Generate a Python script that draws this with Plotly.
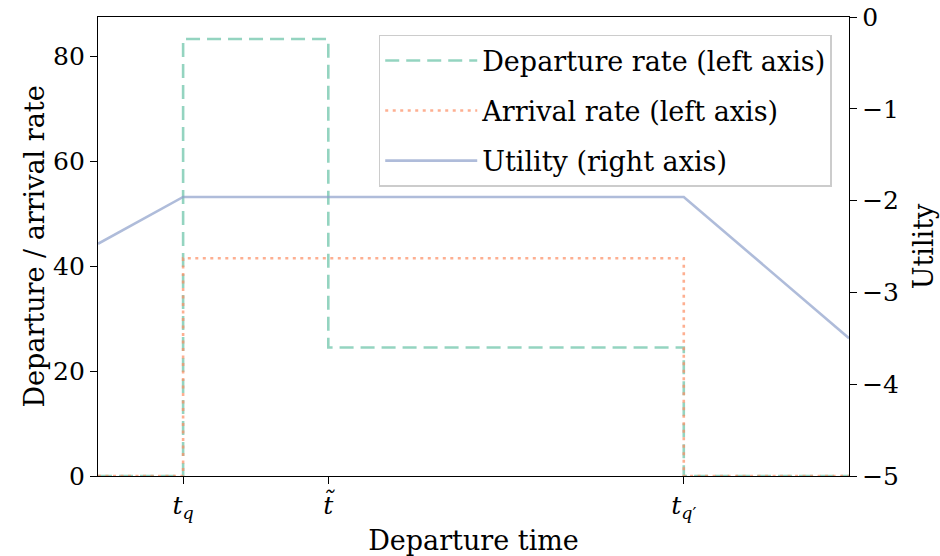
import plotly.graph_objects as go

# ---- data ----
time_points = [0, 17, 46, 117, 150]          # left edge, t_q, t~, t_q', right edge
departure_rate = [0, 83.3, 24.5, 0, 0]
arrival_rate = [0, 41.5, 41.5, 0, 0]
utility_x = [0, 17, 117, 150]
utility = [-2.47, -1.96, -1.96, -3.50]

x_tickvals = [17, 46, 117]
x_ticktext = ["<i>t</i><sub><i>q</i></sub>", "<i>t\u0303</i>", "<i>t</i><sub><i>q</i>\u2032</sub>"]
left_ticks = [0, 20, 40, 60, 80]
right_ticks = [-5, -4, -3, -2, -1, 0]
right_ticktext = ["\u22125", "\u22124", "\u22123", "\u22122", "\u22121", "0"]

FONT = "DejaVu Serif"
FS = 27      # titles / legend
TFS = 25     # tick labels

fig = go.Figure()
fig.add_trace(go.Scatter(
    x=time_points, y=departure_rate, mode="lines", line_shape="hv",
    line=dict(color="rgba(102,194,165,0.7)", width=2.6, dash="14px,7px"),
    name="Departure rate (left axis)", legendgroup="a"))
fig.add_trace(go.Scatter(
    x=time_points, y=arrival_rate, mode="lines", line_shape="hv",
    line=dict(color="rgba(252,141,98,0.7)", width=2.6, dash="3px,4.5px"),
    name="Arrival rate (left axis)", legendgroup="b"))
fig.add_trace(go.Scatter(
    x=utility_x, y=utility, mode="lines", yaxis="y2",
    line=dict(color="rgba(141,160,203,0.7)", width=2.6),
    name="Utility (right axis)", legendgroup="c"))

axis_common = dict(showline=True, linecolor="black", linewidth=1.3, ticks="outside",
                   ticklen=7, tickwidth=1.3, tickcolor="black", showgrid=False,
                   zeroline=False, automargin=False,
                   tickfont=dict(family=FONT, size=TFS, color="black"))

fig.update_layout(
    width=940, height=556,
    margin=dict(l=98, r=91, t=17, b=80),
    plot_bgcolor="white", paper_bgcolor="white",
    font=dict(family=FONT, size=FS, color="black"),
    xaxis=dict(range=[0, 150], tickvals=x_tickvals, ticktext=x_ticktext, mirror=True,
               title=dict(text="Departure time", font=dict(family=FONT, size=FS), standoff=8),
               **axis_common),
    yaxis=dict(range=[0, 87.5], tickvals=left_ticks,
               title=dict(text="Departure / arrival rate", font=dict(family=FONT, size=FS), standoff=0),
               **axis_common),
    yaxis2=dict(range=[-5, 0], tickvals=right_ticks, ticktext=right_ticktext,
                overlaying="y", side="right",
                title=dict(text="Utility", font=dict(family=FONT, size=FS), standoff=16),
                **axis_common),
    legend=dict(x=0.977, y=0.961, xanchor="right", yanchor="top",
                bgcolor="rgba(255,255,255,0.8)", bordercolor="#cccccc", borderwidth=1.5,
                font=dict(family=FONT, size=FS), tracegroupgap=12, traceorder="grouped",
                itemwidth=92),
    showlegend=True,
)

fig.write_html("out.html")
